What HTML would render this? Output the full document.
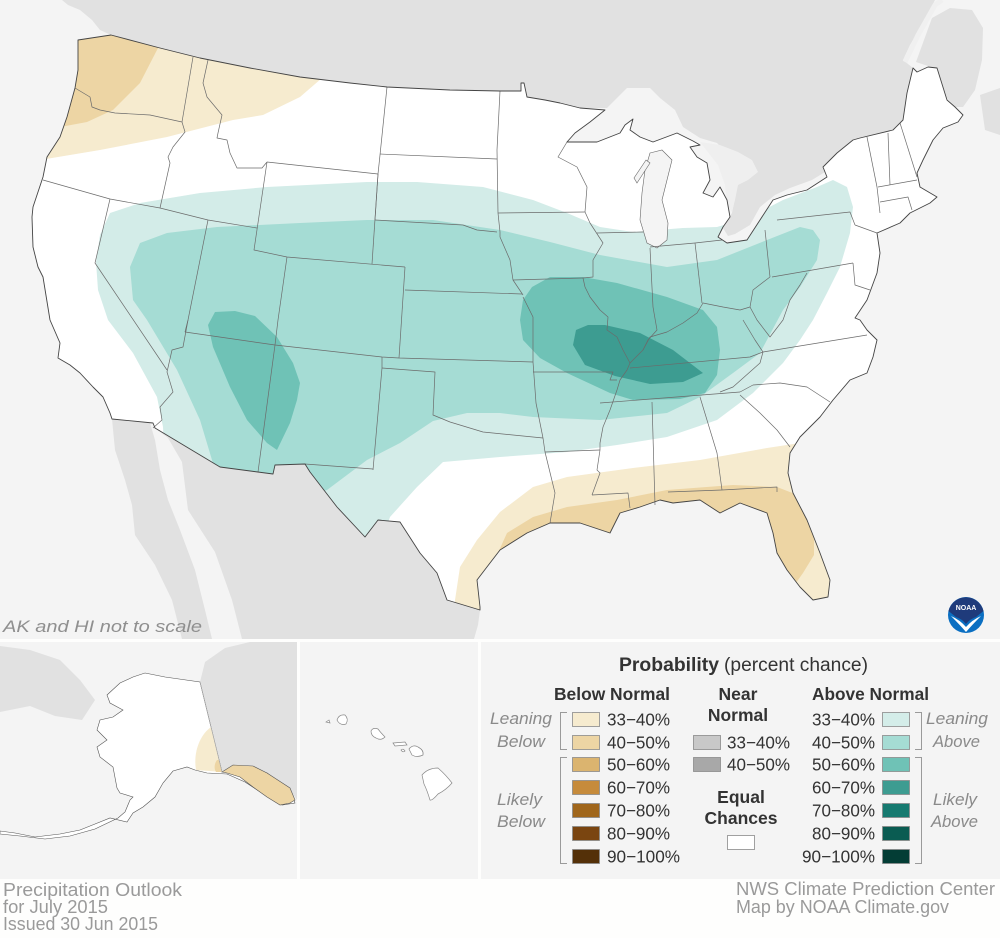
<!DOCTYPE html>
<html><head><meta charset="utf-8"><style>
html,body{margin:0;padding:0;background:#fefefd;}
svg{display:block;}
text{font-family:"Liberation Sans",sans-serif;}
</style></head><body>
<svg width="1000" height="938" viewBox="0 0 1000 938" xmlns="http://www.w3.org/2000/svg">
<defs>
<clipPath id="us"><path id="usp" d="M78,40 L111,35 L160,48 L200,58 L250,68 L300,77 L350,83 L387,87 L450,90 L500,91 L521,91 L521,83 L524,83 L527,97 L545,100 L560,103 L580,108 L605,110 L590,122 L575,133 L567,142 L587,142 L597,142 L620,133 L625,125 L633,119 L630,130 L640,137 L653,142 L677,133 L693,141 L700,145 L690,147 L697,157 L707,163 L710,180 L703,193 L713,197 L720,187 L727,200 L730,217 L723,227 L718,237 L727,243 L747,240 L760,220 L773,200 L787,195 L807,190 L827,177 L823,167 L837,153 L853,140 L860,138 L893,130 L903,120 L907,93 L913,68 L917,72 L928,67 L937,68 L947,100 L955,107 L963,115 L958,122 L943,128 L933,140 L923,160 L917,173 L920,187 L937,197 L930,203 L910,213 L900,223 L877,233 L880,253 L877,273 L867,300 L855,318 L860,320 L867,330 L877,340 L873,357 L867,373 L850,380 L833,400 L820,417 L800,437 L790,453 L788,473 L793,493 L807,520 L820,553 L830,580 L828,597 L813,600 L800,587 L787,570 L777,553 L773,533 L767,513 L740,503 L720,513 L700,500 L673,503 L660,500 L640,507 L620,513 L610,533 L580,523 L550,523 L527,533 L500,550 L490,563 L477,580 L480,607 L480,610 L447,600 L437,573 L420,553 L400,522 L378,520 L365,537 L337,507 L310,472 L305,464 L275,465 L273,474 L220,467 L155,428 L153,423 L112,419 L110,413 L103,397 L93,387 L80,373 L70,365 L58,358 L60,343 L50,320 L43,277 L38,267 L33,247 L32,217 L33,207 L43,177 L47,157 L60,137 L67,117 L75,88 L78,70 Z"/></clipPath>
</defs>
<rect width="1000" height="938" fill="#fefefd"/>
<!-- main map -->
<rect x="0" y="0" width="1000" height="639" fill="#f4f4f4"/>
<g fill="#e1e1e1">
<path d="M62,0 L935,0 L925,20 L910,45 L903,60 L913,68 L907,93 L903,120 L893,130 L860,138 L840,150 L828,163 L825,172 L812,180 L790,188 L775,195 L760,207 L750,225 L735,234 L728,236 L723,228 L732,213 L737,187 L733,160 L717,143 L700,138 L683,127 L675,110 L660,98 L650,88 L627,88 L615,100 L607,108 L580,108 L560,103 L527,97 L524,83 L521,83 L521,91 L500,91 L387,87 L300,77 L200,58 L111,35 L100,30 L92,20 L80,10 L68,5 Z"/>
<path d="M916,62 L932,18 L950,8 L972,10 L983,28 L982,60 L975,90 L963,107 L955,107 L947,98 L937,70 L928,66 Z"/>
<path d="M980,95 L1000,88 L1000,135 L985,130 Z"/>
<path d="M155,428 L220,467 L273,474 L275,465 L305,464 L310,472 L337,507 L365,537 L378,520 L400,522 L420,553 L437,573 L447,600 L480,610 L478,625 L474,639 L242,639 L232,600 L215,552 L188,510 L182,462 L168,438 Z"/>
<path d="M112,419 L150,423 L155,440 L160,470 L168,500 L180,530 L195,570 L205,610 L212,639 L182,639 L172,600 L155,565 L135,535 L132,505 L125,480 L115,450 Z"/>
</g>
<path d="M905,62 L918,35 L935,5 L942,0" fill="none" stroke="#f0f0f0" stroke-width="5"/>
<g fill="#efefef">
<path d="M700,142 L720,145 L738,152 L752,160 L758,172 L748,180 L738,185 L735,200 L732,212 L727,205 L725,185 L718,165 Z"/>
</g>
<use href="#usp" fill="#ffffff"/>
<g clip-path="url(#us)">
<path fill="#f6ebcf" d="M30,20 L330,20 L322,78 L300,97 L263,115 L233,120 L167,137 L100,150 L40,160 Z"/>
<path fill="#edd5a4" d="M30,20 L160,20 L158,48 L140,83 L113,110 L87,122 L60,127 L30,130 Z"/>
<path fill="#f6ebcf" d="M450,640 L455,600 L460,567 L477,540 L500,512 L533,487 L567,477 L633,468 L700,460 L767,448 L800,443 L860,440 L860,640 Z"/>
<path fill="#edd5a4" d="M495,640 L497,555 L507,533 L533,517 L567,507 L617,500 L667,490 L733,485 L777,487 L795,494 L808,515 L814,540 L814,555 L803,573 L793,587 L785,610 L790,640 Z"/>
<path fill="#d3ece8" d="M165,470 L163,427 L157,397 L133,353 L108,320 L98,290 L96,262 L100,235 L110,213 L140,203 L200,193 L267,187 L367,182 L417,182 L483,187 L533,200 L567,213 L600,227 L633,232 L683,228 L717,227 L750,217 L783,200 L817,187 L833,180 L847,187 L853,207 L850,233 L840,267 L827,293 L813,320 L800,340 L783,363 L753,393 L717,420 L667,437 L617,445 L567,452 L500,457 L443,462 L417,487 L390,517 L375,560 L300,560 Z"/>
<path fill="#a5dcd4" d="M215,470 L200,420 L177,370 L147,320 L133,300 L130,267 L140,243 L167,233 L217,227 L300,223 L367,220 L433,220 L500,230 L550,242 L600,255 L667,267 L717,260 L767,240 L800,227 L813,230 L820,240 L817,260 L800,287 L783,310 L760,353 L733,373 L700,397 L667,413 L600,420 L533,417 L500,413 L467,413 L433,421 L400,443 L367,460 L327,490 L300,500 Z"/>
<path fill="#6fc2b6" d="M208,325 L215,312 L235,311 L255,316 L277,337 L293,363 L300,383 L297,400 L290,423 L277,450 L267,443 L247,420 L230,387 L213,347 Z"/>
<path fill="#6fc2b6" d="M520,320 L523,300 L532,287 L550,277 L583,277 L617,283 L667,297 L703,310 L717,327 L720,350 L717,375 L705,393 L680,399 L633,400 L610,393 L567,373 L540,358 L523,340 Z"/>
<path fill="#3d9c91" d="M573,345 L576,330 L588,325 L605,325 L640,333 L673,350 L703,373 L683,382 L650,384 L615,376 L585,365 Z"/>
</g>
<!-- Lake Michigan -->
<g fill="#f4f4f4" stroke="#666" stroke-width="0.6">
<path d="M650,153 L662,150 L672,160 L667,180 L662,200 L668,223 L667,240 L657,248 L647,243 L640,220 L642,193 L645,170 Z"/>
<path d="M637,183 L650,163 L646,160 L634,178 Z"/>
</g>
<!-- state borders -->
<g fill="none" stroke="#6b6b6b" stroke-width="0.7" stroke-linejoin="round">
<polyline points="75,88 90,97 92,107 100,110 115,113 150,115 182,122"/>
<polyline points="193,57 182,122"/>
<polyline points="182,122 185,132 173,147 168,157 170,163 160,208"/>
<polyline points="43,180 110,199 160,208 208,220 257,228"/>
<polyline points="110,199 95,263 167,370"/>
<polyline points="208,60 203,83 207,97 222,115 218,133 217,138 227,140 230,153 237,168 253,168 262,168 267,162"/>
<polyline points="267,162 378,174"/>
<polyline points="267,162 254,250 287,257 405,267"/>
<polyline points="378,174 372,264"/>
<polyline points="208,220 188,320 185,332"/>
<polyline points="188,320 183,347 172,350 167,372 173,392 160,407 162,420 153,428"/>
<polyline points="185,332 275,345 382,357 399,358 533,362"/>
<polyline points="287,257 278,320 275,345 258,472"/>
<polyline points="405,267 399,358"/>
<polyline points="405,290 522,294"/>
<polyline points="375,220 463,225 477,230 497,232"/>
<polyline points="380,154 497,159"/>
<polyline points="387,87 380,155 378,174 375,220"/>
<polyline points="500,91 497,150 498,213 500,232"/>
<polyline points="498,213 585,212"/>
<polyline points="500,232 500,237 510,260 513,280 523,295"/>
<polyline points="513,280 583,278"/>
<polyline points="523,297 533,317 533,362"/>
<polyline points="382,368 435,372 433,415 450,422 483,432 543,438"/>
<polyline points="533,362 536,403 543,438"/>
<polyline points="543,438 545,452 555,493 550,523"/>
<polyline points="545,452 600,450"/>
<polyline points="533,372 613,372 610,380 617,380"/>
<polyline points="585,212 590,223 603,243 593,260 593,277 583,278 585,287 590,297 600,310 608,317 607,330 617,337 623,350 630,363 627,370 620,380 617,390 610,410 603,427 600,443 600,450 597,470 600,473 592,495"/>
<polyline points="592,495 628,493 630,508"/>
<polyline points="382,357 382,368 373,470"/>
<polyline points="305,464 373,469"/>
<polyline points="585,212 587,187 577,167 558,157 567,142"/>
<polyline points="597,233 643,232"/>
<polyline points="650,248 653,307 657,330 648,340 643,350"/>
<polyline points="650,247 695,243 722,240"/>
<polyline points="695,243 702,303"/>
<polyline points="765,230 770,277"/>
<polyline points="630,363 643,350 650,337 667,332 683,323 697,313 703,303 723,307 740,310 750,307 753,290 770,277"/>
<polyline points="630,368 750,357 763,352 867,335"/>
<polyline points="600,403 740,392"/>
<polyline points="763,352 760,363 733,387 720,392"/>
<polyline points="740,392 753,385 780,383 807,387 830,402"/>
<polyline points="740,395 760,413 777,430 790,447"/>
<polyline points="700,397 717,453 722,490"/>
<polyline points="668,492 722,490 777,487 777,492"/>
<polyline points="652,402 655,505"/>
<polyline points="777,220 850,212 855,225"/>
<polyline points="772,277 853,263"/>
<polyline points="867,137 877,187 880,213"/>
<polyline points="888,133 890,185"/>
<polyline points="900,123 917,177"/>
<polyline points="878,187 917,180"/>
<polyline points="880,202 908,197 912,210"/>
<polyline points="855,225 877,233"/>
<polyline points="750,307 757,320 770,337 783,320 790,300 800,285 807,273"/>
<polyline points="743,320 755,340 763,352"/>
<polyline points="853,263 855,285 870,290"/>
</g>
<use href="#usp" fill="none" stroke="#444" stroke-width="0.9" stroke-linejoin="round"/>
<text x="3" y="632" font-size="17" font-style="italic" fill="#8f8f8f" textLength="199" lengthAdjust="spacingAndGlyphs">AK and HI not to scale</text>
<!-- NOAA logo -->
<circle cx="966" cy="615" r="18" fill="#0b6fc2"/>
<path d="M948.5,611 A18,18 0 0 1 983.5,611 L976,617 Q970,619 966,624 Q962,619 956,617 Z" fill="#1f3b7b"/>
<path d="M951,616 Q960,620 966,627 Q972,620 981,616 Q972,625 966,632 Q960,625 951,616 Z" fill="#ffffff"/>
<text x="966" y="610" font-size="7" font-weight="bold" fill="#ffffff" text-anchor="middle">NOAA</text>
<!-- Alaska panel -->
<rect x="0" y="642" width="297" height="237" fill="#f4f4f4"/>
<g fill="#e1e1e1">
<path d="M200,682 L205,662 L225,648 L250,642 L297,642 L297,800 L290,790 L267,773 L250,767 L233,767 L222,772 Z"/>
<path d="M0,646 L30,650 L60,660 L80,680 L95,700 L82,720 L55,716 L30,706 L0,712 Z"/>
</g>
<path d="M145,673 L165,677 L200,682 L222,772 L233,767 L250,767 L267,773 L290,790 L295,803 L282,805 L265,795 L245,782 L227,774 L207,773 L195,770 L187,767 L173,771 L163,783 L155,797 L143,807 L133,813 L127,822 L110,818 L95,824 L80,830 L60,834 L35,837 L15,833 L0,831 L0,834 L20,836 L45,839 L70,836 L95,829 L118,818 L125,812 L130,800 L133,797 L120,793 L117,788 L113,767 L100,757 L97,747 L107,740 L97,730 L100,720 L113,717 L123,710 L110,703 L107,695 L120,683 L133,677 Z" fill="#ffffff" stroke="#555" stroke-width="0.6"/>
<path d="M211,727 C200,735 193,752 196,770 L222,772 Z" fill="#f6ebcf"/>
<path d="M217,760 C214,764 214,769 216,772 L222,772 L219,760 Z" fill="#edd5a4"/>
<path d="M222,772 L233,765 L253,766 L267,773 L290,788 L295,800 L290,803 L280,805 L267,797 L253,787 L240,777 L227,773 Z" fill="#edd5a4" stroke="#555" stroke-width="0.6"/>
<line x1="200" y1="682" x2="222" y2="772" stroke="#aaa" stroke-width="0.6"/>
<!-- Hawaii panel -->
<rect x="300" y="642" width="178" height="237" fill="#f4f4f4"/>
<g fill="#ffffff" stroke="#888" stroke-width="0.7">
<path d="M337,720 Q339,714 345,715 Q349,719 346,724 Q340,726 337,720 Z"/>
<path d="M326,722 L329,720 L330,723 Z"/>
<path d="M371,731 Q373,727 378,729 Q381,733 385,737 Q381,741 376,738 Q371,736 371,731 Z"/>
<path d="M393,743 L405,742 L407,745 L395,746 Z"/>
<path d="M401,750 Q403,748 405,751 Q403,753 401,750 Z"/>
<path d="M409,749 Q413,744 418,747 Q424,750 423,755 Q417,758 412,755 Z"/>
<path d="M422,775 Q428,768 438,768 Q446,775 452,783 Q446,790 438,794 Q432,801 430,800 Q427,790 424,784 Z"/>
</g>
<!-- legend panel -->
<rect x="481" y="642" width="519" height="237" fill="#f4f4f4"/>
<text y="671" font-size="19" fill="#333"><tspan x="619" font-weight="bold" textLength="100" lengthAdjust="spacingAndGlyphs">Probability</tspan><tspan x="724" textLength="144" lengthAdjust="spacingAndGlyphs">(percent chance)</tspan></text>
<g font-size="17.5" font-weight="bold" fill="#333">
<text x="554" y="700" textLength="116" lengthAdjust="spacingAndGlyphs">Below Normal</text>
<text x="738" y="700" text-anchor="middle">Near</text>
<text x="738" y="721" text-anchor="middle">Normal</text>
<text x="812" y="700" textLength="117" lengthAdjust="spacingAndGlyphs">Above Normal</text>
<text x="741" y="803" text-anchor="middle">Equal</text>
<text x="741" y="824" text-anchor="middle">Chances</text>
</g>
<g font-size="17" font-style="italic" fill="#8a8a8a">
<text x="490" y="724" textLength="62" lengthAdjust="spacingAndGlyphs">Leaning</text>
<text x="497" y="747" textLength="48" lengthAdjust="spacingAndGlyphs">Below</text>
<text x="497" y="805" textLength="45" lengthAdjust="spacingAndGlyphs">Likely</text>
<text x="497" y="827" textLength="48" lengthAdjust="spacingAndGlyphs">Below</text>
<text x="926" y="724" textLength="62" lengthAdjust="spacingAndGlyphs">Leaning</text>
<text x="933" y="747" textLength="47" lengthAdjust="spacingAndGlyphs">Above</text>
<text x="933" y="805" textLength="44" lengthAdjust="spacingAndGlyphs">Likely</text>
<text x="931" y="827" textLength="47" lengthAdjust="spacingAndGlyphs">Above</text>
</g>
<g fill="none" stroke="#9a9a9a" stroke-width="1">
<polyline points="567,712.5 560.5,712.5 560.5,749.5 567,749.5"/>
<polyline points="567,757.5 560.5,757.5 560.5,863.5 567,863.5"/>
<polyline points="915,712.5 921.5,712.5 921.5,749.5 915,749.5"/>
<polyline points="915,757.5 921.5,757.5 921.5,863.5 915,863.5"/>
</g>
<g stroke="#8a8a8a" stroke-width="0.8">
<rect x="572.5" y="712.5" width="27" height="14" fill="#f6ebcf"/>
<rect x="572.5" y="735.5" width="27" height="14" fill="#edd5a4"/>
<rect x="572.5" y="757.5" width="27" height="14" fill="#dbb46f"/>
<rect x="572.5" y="780.5" width="27" height="14" fill="#c68b3b"/>
<rect x="572.5" y="803.5" width="27" height="14" fill="#a0661b"/>
<rect x="572.5" y="826.5" width="27" height="14" fill="#7a4510"/>
<rect x="572.5" y="849.5" width="27" height="14" fill="#543008"/>
<rect x="693.5" y="735.5" width="27" height="14" fill="#c8c8c8"/>
<rect x="693.5" y="757.5" width="27" height="14" fill="#a8a8a8"/>
<rect x="727.5" y="835.5" width="27" height="14" fill="#ffffff"/>
<rect x="882.5" y="712.5" width="27" height="14" fill="#d4ede9"/>
<rect x="882.5" y="735.5" width="27" height="14" fill="#a5dcd4"/>
<rect x="882.5" y="757.5" width="27" height="14" fill="#6fc2b6"/>
<rect x="882.5" y="780.5" width="27" height="14" fill="#3d9c91"/>
<rect x="882.5" y="803.5" width="27" height="14" fill="#167a70"/>
<rect x="882.5" y="826.5" width="27" height="14" fill="#0a5c52"/>
<rect x="882.5" y="849.5" width="27" height="14" fill="#033d35"/>
</g>
<g font-size="17.5" fill="#333">
<text x="607" y="725.5" textLength="63" lengthAdjust="spacingAndGlyphs">33−40%</text>
<text x="607" y="748.5" textLength="63" lengthAdjust="spacingAndGlyphs">40−50%</text>
<text x="607" y="770.5" textLength="63" lengthAdjust="spacingAndGlyphs">50−60%</text>
<text x="607" y="793.5" textLength="63" lengthAdjust="spacingAndGlyphs">60−70%</text>
<text x="607" y="816.5" textLength="63" lengthAdjust="spacingAndGlyphs">70−80%</text>
<text x="607" y="839.5" textLength="63" lengthAdjust="spacingAndGlyphs">80−90%</text>
<text x="607" y="862.5" textLength="73" lengthAdjust="spacingAndGlyphs">90−100%</text>
<text x="727" y="748.5" textLength="63" lengthAdjust="spacingAndGlyphs">33−40%</text>
<text x="727" y="770.5" textLength="63" lengthAdjust="spacingAndGlyphs">40−50%</text>
<text x="812" y="725.5" textLength="63" lengthAdjust="spacingAndGlyphs">33−40%</text>
<text x="812" y="748.5" textLength="63" lengthAdjust="spacingAndGlyphs">40−50%</text>
<text x="812" y="770.5" textLength="63" lengthAdjust="spacingAndGlyphs">50−60%</text>
<text x="812" y="793.5" textLength="63" lengthAdjust="spacingAndGlyphs">60−70%</text>
<text x="812" y="816.5" textLength="63" lengthAdjust="spacingAndGlyphs">70−80%</text>
<text x="812" y="839.5" textLength="63" lengthAdjust="spacingAndGlyphs">80−90%</text>
<text x="802" y="862.5" textLength="73" lengthAdjust="spacingAndGlyphs">90−100%</text>
</g>
<!-- footer -->
<g font-size="18" fill="#9a9a9a">
<text x="3" y="896" textLength="179" lengthAdjust="spacingAndGlyphs">Precipitation Outlook</text>
<text x="3" y="913" textLength="105" lengthAdjust="spacingAndGlyphs">for July 2015</text>
<text x="3" y="930" textLength="155" lengthAdjust="spacingAndGlyphs">Issued 30 Jun 2015</text>
<text x="736" y="895" textLength="259" lengthAdjust="spacingAndGlyphs">NWS Climate Prediction Center</text>
<text x="736" y="913" textLength="213" lengthAdjust="spacingAndGlyphs">Map by NOAA Climate.gov</text>
</g>
</svg>
</body></html>
